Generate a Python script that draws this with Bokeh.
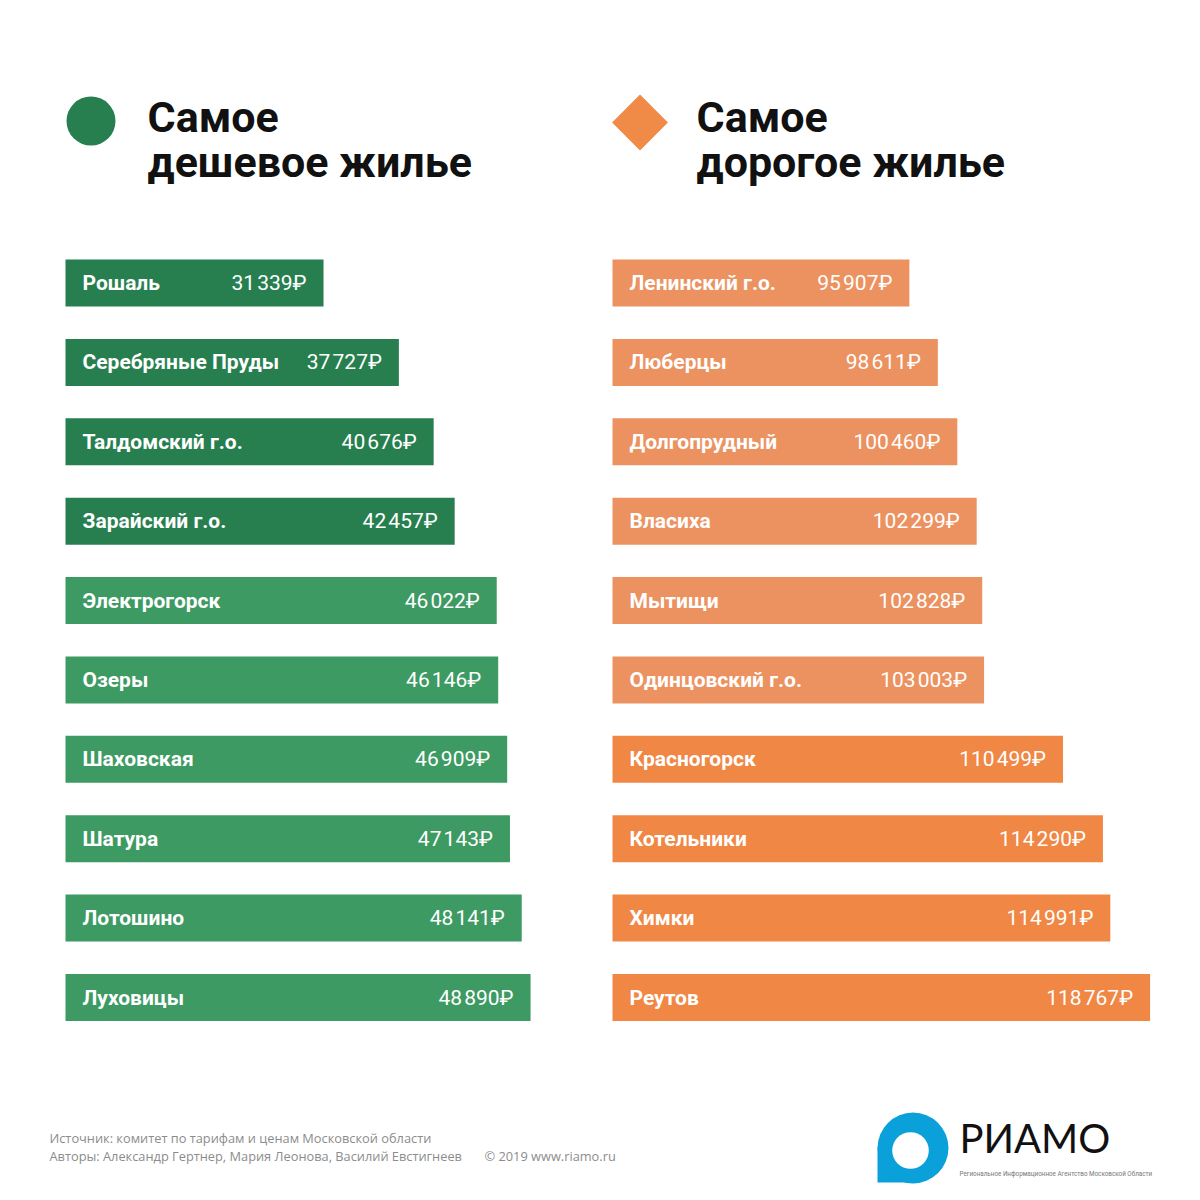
import math
from bokeh.plotting import figure
from bokeh.models import Range1d, ColumnDataSource
from bokeh.embed import file_html
from bokeh.resources import INLINE
from bokeh.core.properties import value

# ---------------- data ----------------
cheap_names = ["Рошаль", "Серебряные Пруды", "Талдомский г.о.", "Зарайский г.о.",
               "Электрогорск", "Озеры", "Шаховская", "Шатура", "Лотошино", "Луховицы"]
cheap_values = [31339, 37727, 40676, 42457, 46022, 46146, 46909, 47143, 48141, 48890]

exp_names = ["Ленинский г.о.", "Люберцы", "Долгопрудный", "Власиха", "Мытищи",
             "Одинцовский г.о.", "Красногорск", "Котельники", "Химки", "Реутов"]
exp_values = [95907, 98611, 100460, 102299, 102828, 103003, 110499, 114290, 114991, 118767]

title_cheap = ["Самое", "дешевое жилье"]
title_exp = ["Самое", "дорогое жилье"]
footer_lines = ["Источник: комитет по тарифам и ценам Московской области",
                "Авторы: Александр Гертнер, Мария Леонова, Василий Евстигнеев"]
footer_copy = "© 2019  www.riamo.ru"
logo_word = "РИАМО"
logo_sub = "Региональное Информационное Агентство Московской Области"

# ---------------- styling ----------------
GREEN_DARK, GREEN_LIGHT = "#277F50", "#3D9A62"
ORANGE_LIGHT, ORANGE_DARK = "#EC9260", "#F08745"
BLUE = "#0AA0DA"
W = H = 1200

# scale settings (pixel density per rouble and baseline values)
L_PX0, L_BASE, L_K = 65, 9465, 0.011796
R_PX0, R_BASE, R_K = 612, 67714, 0.01053
ROW0, ROW_STEP, BAR_PX = 282.5, 79.39, 47

p = figure(width=W, height=H, x_range=Range1d(0, W), y_range=Range1d(H, 0),
           output_backend="svg", toolbar_location=None, min_border=0,
           x_axis_location=None, y_axis_location=None)
p.grid.visible = False
p.outline_line_color = None
p.background_fill_color = "white"
p.border_fill_color = "white"

p.extra_x_ranges = {
    "cheap": Range1d(L_BASE - L_PX0 / L_K, L_BASE + (W - L_PX0) / L_K),
    "exp": Range1d(R_BASE - R_PX0 / R_K, R_BASE + (W - R_PX0) / R_K),
}
p.extra_y_ranges = {"rows": Range1d((H - ROW0) / ROW_STEP, -ROW0 / ROW_STEP)}


def fmt(v):
    return f"{v:,}".replace(",", "\u200a") + "₽"


def add_bars(names, vals, base, rng, colors):
    n = len(names)
    src = ColumnDataSource(dict(
        y=list(range(n)), left=[base] * n, right=vals,
        name=names, label=[fmt(v) for v in vals], color=colors))
    p.hbar(y="y", left="left", right="right", height=BAR_PX / ROW_STEP,
           fill_color="color", line_color=None, source=src,
           x_range_name=rng, y_range_name="rows")
    p.text(x="left", y="y", text="name", source=src, x_offset=17,
           text_align="left", text_baseline="middle",
           text_font=value("Roboto"), text_font_style="bold",
           text_font_size="21px", text_color="white",
           x_range_name=rng, y_range_name="rows")
    p.text(x="right", y="y", text="label", source=src, x_offset=-17,
           text_align="right", text_baseline="middle",
           text_font=value("Roboto"), text_font_size="21px", text_color="white",
           x_range_name=rng, y_range_name="rows")


add_bars(cheap_names, cheap_values, L_BASE, "cheap",
         [GREEN_DARK if i < 4 else GREEN_LIGHT for i in range(len(cheap_names))])
add_bars(exp_names, exp_values, R_BASE, "exp",
         [ORANGE_LIGHT if i < 6 else ORANGE_DARK for i in range(len(exp_names))])

# ---------------- header ----------------
p.scatter(x=[90.5], y=[120.5], marker="circle", size=49, fill_color=GREEN_DARK, line_color=None)
p.scatter(x=[639.5], y=[122], marker="square", size=39.5, angle=math.pi / 4,
          fill_color="#EF8A47", line_color=None)
for x0, lines in ((147, title_cheap), (696, title_exp)):
    p.text(x=[x0, x0], y=[116, 161], text=lines, text_font=value("Roboto"),
           text_font_style="bold", text_font_size="43px", text_color="#111111",
           text_align="left", text_baseline="middle")

# ---------------- footer ----------------
p.text(x=[49, 49], y=[1137, 1155], text=footer_lines, text_font=value("Open Sans"),
       text_font_size="12.8px", text_color="#8C8C8C", text_baseline="middle")
p.text(x=[484], y=[1155], text=[footer_copy], text_font=value("Open Sans"),
       text_font_size="12.8px", text_color="#8C8C8C", text_baseline="middle")

# ---------------- logo ----------------
p.quad(left=[877], right=[912], top=[1147], bottom=[1182], fill_color=BLUE, line_color=None)
p.circle(x=[912.5], y=[1147.5], radius=35.5, fill_color=BLUE, line_color=None)
p.circle(x=[910], y=[1150], radius=18.3, fill_color="white", line_color=None)
p.text(x=[959], y=[1137], text=[logo_word], text_font=value("Lato"),
       text_font_size="40px", text_color="#111111", text_baseline="middle")
p.text(x=[959], y=[1173], text=[logo_sub], text_font=value("Roboto"),
       text_font_size="6.3px", text_color="#777777", text_baseline="middle")

open("out.html", "w").write(file_html(p, INLINE))
